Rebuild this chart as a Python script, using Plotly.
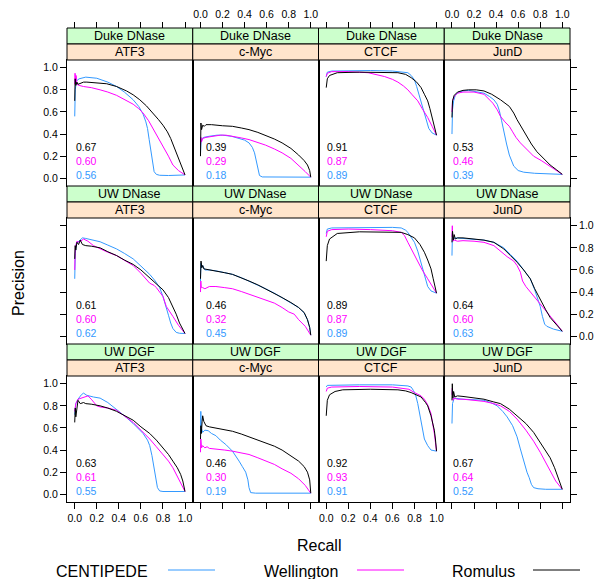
import plotly.graph_objects as go

W, H = 600, 579

datasets = ["Duke DNase", "UW DNase", "UW DGF"]
factors = ["ATF3", "c-Myc", "CTCF", "JunD"]
methods = ["CENTIPEDE", "Wellington", "Romulus"]

# AUC values printed in each panel (rows: datasets, cols: factors)
auc_centipede = [[0.56, 0.18, 0.89, 0.39], [0.62, 0.45, 0.89, 0.63], [0.55, 0.19, 0.91, 0.52]]
auc_wellington = [[0.60, 0.29, 0.87, 0.46], [0.60, 0.32, 0.87, 0.60], [0.61, 0.30, 0.93, 0.64]]
auc_romulus = [[0.67, 0.39, 0.91, 0.53], [0.61, 0.46, 0.89, 0.64], [0.63, 0.46, 0.92, 0.67]]

# ---- precision/recall curves: (recall, precision) ----
# Duke DNase
centipede_duke_atf3 = [(0,0.56),(0.005,0.80),(0.015,0.88),(0.04,0.90),(0.1,0.915),(0.2,0.905),(0.3,0.87),(0.38,0.83),(0.45,0.78),(0.53,0.71),(0.58,0.65),(0.62,0.58),(0.645,0.51),(0.66,0.45),(0.675,0.35),(0.69,0.24),(0.705,0.13),(0.72,0.06),(0.74,0.035),(0.77,0.027),(0.85,0.025),(1.0,0.03)]
wellington_duke_atf3 = [(0,0.85),(0.003,0.95),(0.008,0.87),(0.012,0.93),(0.02,0.85),(0.04,0.84),(0.08,0.83),(0.15,0.82),(0.23,0.80),(0.3,0.78),(0.38,0.75),(0.45,0.71),(0.53,0.67),(0.58,0.63),(0.62,0.59),(0.67,0.52),(0.71,0.45),(0.76,0.37),(0.80,0.29),(0.85,0.20),(0.89,0.12),(0.94,0.07),(1.0,0.03)]
romulus_duke_atf3 = [(0,0.70),(0.004,0.90),(0.01,0.84),(0.02,0.87),(0.03,0.85),(0.05,0.86),(0.08,0.87),(0.11,0.87),(0.2,0.865),(0.29,0.855),(0.38,0.83),(0.47,0.79),(0.53,0.755),(0.59,0.71),(0.65,0.655),(0.71,0.59),(0.76,0.53),(0.80,0.48),(0.84,0.42),(0.87,0.36),(0.91,0.26),(0.95,0.15),(1.0,0.03)]

centipede_duke_cmyc = [(0,0.22),(0.005,0.33),(0.015,0.36),(0.03,0.37),(0.08,0.38),(0.15,0.39),(0.2,0.39),(0.28,0.38),(0.35,0.36),(0.4,0.345),(0.44,0.32),(0.47,0.28),(0.49,0.23),(0.51,0.14),(0.52,0.08),(0.535,0.025),(0.56,0.012),(0.7,0.01),(1.0,0.01)]
wellington_duke_cmyc = [(0,0.30),(0.004,0.37),(0.01,0.33),(0.02,0.36),(0.05,0.37),(0.11,0.38),(0.18,0.39),(0.23,0.39),(0.3,0.38),(0.37,0.365),(0.44,0.35),(0.52,0.325),(0.59,0.30),(0.67,0.265),(0.74,0.23),(0.82,0.18),(0.89,0.12),(0.95,0.06),(1.0,0.01)]
romulus_duke_cmyc = [(0,0.20),(0.004,0.50),(0.01,0.44),(0.02,0.48),(0.035,0.47),(0.05,0.485),(0.1,0.485),(0.2,0.475),(0.29,0.47),(0.37,0.455),(0.44,0.44),(0.52,0.415),(0.59,0.39),(0.67,0.355),(0.74,0.32),(0.82,0.27),(0.89,0.21),(0.94,0.16),(0.97,0.12),(0.99,0.07),(1.0,0.01)]

centipede_duke_ctcf = [(0,0.92),(0.01,0.96),(0.05,0.97),(0.2,0.975),(0.4,0.975),(0.6,0.97),(0.7,0.96),(0.74,0.955),(0.77,0.93),(0.80,0.89),(0.82,0.83),(0.84,0.76),(0.865,0.67),(0.89,0.58),(0.91,0.51),(0.93,0.45),(0.96,0.41),(1.0,0.39)]
wellington_duke_ctcf = [(0,0.92),(0.01,0.95),(0.05,0.965),(0.2,0.965),(0.38,0.955),(0.45,0.94),(0.53,0.92),(0.6,0.895),(0.65,0.87),(0.7,0.835),(0.74,0.80),(0.78,0.755),(0.83,0.70),(0.87,0.63),(0.92,0.55),(0.96,0.47),(1.0,0.39)]
romulus_duke_ctcf = [(0,0.82),(0.01,0.90),(0.03,0.93),(0.1,0.955),(0.3,0.96),(0.5,0.96),(0.65,0.955),(0.72,0.94),(0.77,0.91),(0.82,0.87),(0.86,0.82),(0.89,0.76),(0.92,0.70),(0.94,0.63),(0.96,0.55),(0.98,0.47),(1.0,0.39)]

centipede_duke_jund = [(0,0.40),(0.005,0.62),(0.015,0.70),(0.03,0.75),(0.06,0.78),(0.1,0.79),(0.15,0.795),(0.22,0.785),(0.29,0.77),(0.34,0.74),(0.38,0.71),(0.41,0.67),(0.43,0.61),(0.45,0.52),(0.47,0.42),(0.495,0.31),(0.52,0.21),(0.54,0.15),(0.56,0.11),(0.6,0.07),(0.65,0.055),(0.75,0.045),(1.0,0.035)]
wellington_duke_jund = [(0,0.60),(0.005,0.70),(0.02,0.74),(0.05,0.77),(0.1,0.78),(0.2,0.78),(0.29,0.76),(0.33,0.72),(0.37,0.68),(0.41,0.62),(0.44,0.56),(0.48,0.51),(0.52,0.47),(0.55,0.42),(0.58,0.37),(0.62,0.32),(0.68,0.26),(0.74,0.20),(0.81,0.16),(0.89,0.11),(1.0,0.035)]
romulus_duke_jund = [(0,0.55),(0.005,0.70),(0.02,0.75),(0.05,0.78),(0.1,0.795),(0.15,0.80),(0.22,0.80),(0.29,0.79),(0.36,0.76),(0.44,0.71),(0.52,0.65),(0.56,0.59),(0.59,0.53),(0.63,0.46),(0.68,0.38),(0.72,0.31),(0.77,0.24),(0.83,0.18),(0.89,0.12),(0.95,0.075),(1.0,0.035)]

# UW DNase
centipede_uw_atf3 = [(0,0.52),(0.005,0.75),(0.015,0.84),(0.04,0.86),(0.07,0.89),(0.1,0.885),(0.17,0.87),(0.23,0.855),(0.3,0.825),(0.38,0.79),(0.45,0.75),(0.53,0.70),(0.6,0.635),(0.68,0.56),(0.73,0.50),(0.77,0.44),(0.80,0.36),(0.83,0.27),(0.85,0.19),(0.87,0.12),(0.89,0.07),(0.92,0.035),(0.95,0.027),(1.0,0.025)]
wellington_uw_atf3 = [(0,0.60),(0.005,0.80),(0.02,0.86),(0.04,0.85),(0.08,0.88),(0.12,0.86),(0.17,0.82),(0.23,0.79),(0.3,0.76),(0.38,0.73),(0.45,0.69),(0.53,0.64),(0.6,0.57),(0.68,0.48),(0.72,0.46),(0.74,0.44),(0.77,0.40),(0.80,0.36),(0.83,0.27),(0.86,0.22),(0.89,0.18),(0.94,0.10),(1.0,0.025)]
romulus_uw_atf3 = [(0,0.70),(0.004,0.82),(0.01,0.78),(0.02,0.85),(0.035,0.83),(0.05,0.87),(0.07,0.83),(0.1,0.82),(0.15,0.815),(0.23,0.80),(0.3,0.765),(0.38,0.73),(0.45,0.69),(0.53,0.65),(0.6,0.60),(0.68,0.53),(0.74,0.475),(0.80,0.42),(0.85,0.35),(0.89,0.27),(0.92,0.20),(0.95,0.12),(1.0,0.025)]

centipede_uw_cmyc = [(0,0.50),(0.004,0.66),(0.01,0.62),(0.02,0.64),(0.04,0.60),(0.08,0.60),(0.15,0.59),(0.22,0.575),(0.29,0.56),(0.37,0.53),(0.44,0.50),(0.52,0.465),(0.59,0.43),(0.67,0.39),(0.74,0.35),(0.82,0.305),(0.89,0.26),(0.94,0.21),(0.97,0.15),(0.99,0.08),(1.0,0.01)]
wellington_uw_cmyc = [(0,0.40),(0.003,0.50),(0.008,0.44),(0.02,0.44),(0.04,0.43),(0.08,0.45),(0.14,0.45),(0.22,0.44),(0.29,0.43),(0.37,0.405),(0.44,0.38),(0.52,0.355),(0.59,0.33),(0.67,0.30),(0.74,0.26),(0.8,0.22),(0.85,0.20),(0.89,0.15),(0.95,0.09),(1.0,0.01)]
romulus_uw_cmyc = [(0,0.52),(0.005,0.68),(0.012,0.62),(0.02,0.64),(0.03,0.61),(0.06,0.605),(0.1,0.60),(0.15,0.59),(0.22,0.575),(0.29,0.56),(0.37,0.53),(0.44,0.50),(0.52,0.465),(0.59,0.43),(0.67,0.39),(0.74,0.35),(0.82,0.305),(0.89,0.26),(0.94,0.215),(0.97,0.15),(0.99,0.08),(1.0,0.01)]

centipede_uw_ctcf = [(0,0.93),(0.01,0.97),(0.05,0.98),(0.3,0.985),(0.6,0.985),(0.68,0.98),(0.72,0.96),(0.74,0.94),(0.77,0.90),(0.80,0.85),(0.83,0.77),(0.86,0.67),(0.88,0.59),(0.90,0.52),(0.92,0.45),(0.95,0.41),(1.0,0.39)]
wellington_uw_ctcf = [(0,0.90),(0.01,0.95),(0.05,0.965),(0.2,0.97),(0.4,0.965),(0.6,0.955),(0.68,0.94),(0.71,0.91),(0.74,0.85),(0.77,0.79),(0.8,0.73),(0.83,0.67),(0.87,0.60),(0.92,0.52),(0.96,0.45),(1.0,0.39)]
romulus_uw_ctcf = [(0,0.68),(0.01,0.82),(0.03,0.88),(0.1,0.93),(0.3,0.945),(0.5,0.945),(0.68,0.94),(0.74,0.92),(0.80,0.89),(0.85,0.83),(0.89,0.76),(0.92,0.69),(0.95,0.61),(0.97,0.52),(0.99,0.44),(1.0,0.39)]

centipede_uw_jund = [(0,0.73),(0.004,0.93),(0.01,0.88),(0.03,0.89),(0.1,0.885),(0.2,0.88),(0.29,0.87),(0.38,0.85),(0.47,0.80),(0.53,0.74),(0.59,0.68),(0.65,0.60),(0.71,0.52),(0.75,0.42),(0.78,0.33),(0.80,0.27),(0.82,0.18),(0.84,0.11),(0.86,0.09),(0.92,0.065),(1.0,0.045)]
wellington_uw_jund = [(0,0.90),(0.003,1.0),(0.008,0.86),(0.02,0.87),(0.05,0.86),(0.1,0.865),(0.2,0.86),(0.29,0.85),(0.38,0.82),(0.44,0.77),(0.5,0.72),(0.56,0.68),(0.59,0.64),(0.62,0.58),(0.64,0.50),(0.67,0.45),(0.72,0.39),(0.77,0.33),(0.83,0.26),(0.89,0.18),(0.95,0.11),(1.0,0.045)]
romulus_uw_jund = [(0,0.85),(0.005,0.95),(0.012,0.87),(0.02,0.92),(0.03,0.88),(0.05,0.89),(0.1,0.89),(0.2,0.88),(0.29,0.87),(0.38,0.85),(0.47,0.79),(0.53,0.73),(0.59,0.67),(0.65,0.60),(0.71,0.52),(0.75,0.43),(0.80,0.33),(0.85,0.24),(0.89,0.17),(0.94,0.11),(1.0,0.045)]

# UW DGF
centipede_dgf_atf3 = [(0,0.72),(0.01,0.82),(0.03,0.86),(0.06,0.90),(0.08,0.915),(0.11,0.895),(0.17,0.88),(0.23,0.87),(0.3,0.83),(0.38,0.77),(0.45,0.71),(0.53,0.64),(0.58,0.59),(0.62,0.55),(0.66,0.49),(0.68,0.44),(0.70,0.35),(0.72,0.24),(0.735,0.14),(0.75,0.06),(0.77,0.03),(0.8,0.025),(1.0,0.025)]
wellington_dgf_atf3 = [(0,0.75),(0.01,0.82),(0.03,0.86),(0.06,0.87),(0.1,0.88),(0.12,0.89),(0.15,0.86),(0.2,0.80),(0.23,0.79),(0.3,0.78),(0.38,0.76),(0.45,0.71),(0.53,0.65),(0.6,0.58),(0.68,0.50),(0.74,0.43),(0.80,0.36),(0.85,0.30),(0.89,0.24),(0.93,0.16),(0.97,0.09),(1.0,0.025)]
romulus_dgf_atf3 = [(0,0.65),(0.005,0.78),(0.01,0.70),(0.02,0.80),(0.03,0.85),(0.05,0.82),(0.08,0.83),(0.1,0.82),(0.15,0.815),(0.23,0.80),(0.3,0.78),(0.38,0.75),(0.45,0.71),(0.53,0.67),(0.6,0.61),(0.68,0.55),(0.74,0.49),(0.80,0.42),(0.85,0.36),(0.89,0.30),(0.93,0.24),(0.96,0.18),(0.98,0.12),(1.0,0.025)]

centipede_dgf_cmyc = [(0,0.55),(0.003,0.75),(0.008,0.60),(0.02,0.56),(0.04,0.58),(0.07,0.575),(0.1,0.55),(0.14,0.53),(0.18,0.49),(0.23,0.45),(0.29,0.39),(0.32,0.35),(0.35,0.30),(0.38,0.25),(0.41,0.20),(0.43,0.13),(0.44,0.06),(0.455,0.015),(0.5,0.01),(1.0,0.01)]
wellington_dgf_cmyc = [(0,0.38),(0.003,0.50),(0.01,0.42),(0.02,0.44),(0.04,0.42),(0.06,0.43),(0.08,0.415),(0.14,0.41),(0.22,0.40),(0.29,0.39),(0.37,0.375),(0.44,0.36),(0.52,0.33),(0.59,0.30),(0.67,0.27),(0.74,0.23),(0.82,0.19),(0.89,0.14),(0.95,0.08),(1.0,0.01)]
romulus_dgf_cmyc = [(0,0.50),(0.004,0.62),(0.008,0.55),(0.015,0.66),(0.02,0.71),(0.03,0.66),(0.05,0.62),(0.08,0.61),(0.14,0.60),(0.22,0.585),(0.29,0.57),(0.37,0.545),(0.44,0.52),(0.52,0.495),(0.59,0.47),(0.67,0.435),(0.74,0.40),(0.82,0.35),(0.89,0.30),(0.94,0.25),(0.97,0.20),(0.99,0.13),(1.0,0.01)]

centipede_dgf_ctcf = [(0,0.97),(0.01,0.985),(0.3,0.99),(0.6,0.99),(0.74,0.98),(0.77,0.97),(0.79,0.94),(0.81,0.90),(0.83,0.82),(0.84,0.76),(0.86,0.66),(0.87,0.58),(0.89,0.50),(0.92,0.44),(0.95,0.40),(1.0,0.39)]
wellington_dgf_ctcf = [(0,0.93),(0.01,0.96),(0.05,0.97),(0.3,0.975),(0.6,0.97),(0.75,0.95),(0.8,0.92),(0.86,0.89),(0.89,0.86),(0.92,0.81),(0.95,0.73),(0.97,0.63),(0.98,0.55),(0.99,0.47),(1.0,0.39)]
romulus_dgf_ctcf = [(0,0.71),(0.01,0.85),(0.03,0.90),(0.08,0.93),(0.15,0.945),(0.4,0.95),(0.65,0.945),(0.72,0.935),(0.77,0.92),(0.82,0.90),(0.86,0.88),(0.9,0.83),(0.92,0.80),(0.95,0.71),(0.96,0.67),(0.98,0.58),(0.99,0.50),(1.0,0.39)]

centipede_dgf_jund = [(0,0.64),(0.005,0.82),(0.02,0.87),(0.05,0.865),(0.1,0.86),(0.2,0.855),(0.29,0.85),(0.35,0.83),(0.41,0.80),(0.46,0.75),(0.5,0.70),(0.55,0.62),(0.59,0.52),(0.62,0.41),(0.65,0.30),(0.68,0.20),(0.70,0.15),(0.72,0.09),(0.74,0.06),(0.78,0.05),(0.85,0.045),(1.0,0.045)]
wellington_dgf_jund = [(0,0.90),(0.003,0.96),(0.01,0.85),(0.02,0.87),(0.05,0.86),(0.1,0.86),(0.2,0.85),(0.29,0.84),(0.38,0.82),(0.44,0.80),(0.52,0.75),(0.59,0.68),(0.67,0.58),(0.74,0.48),(0.8,0.38),(0.85,0.29),(0.89,0.21),(0.94,0.12),(1.0,0.045)]
romulus_dgf_jund = [(0,0.85),(0.003,1.0),(0.008,0.87),(0.015,0.93),(0.025,0.88),(0.05,0.89),(0.1,0.885),(0.2,0.87),(0.29,0.86),(0.38,0.835),(0.44,0.82),(0.52,0.77),(0.59,0.71),(0.67,0.64),(0.74,0.56),(0.8,0.47),(0.85,0.40),(0.89,0.33),(0.93,0.24),(0.96,0.16),(1.0,0.045)]

tick_values = [0.0, 0.2, 0.4, 0.6, 0.8, 1.0]
tick_labels = ["0.0", "0.2", "0.4", "0.6", "0.8", "1.0"]

panel_curves = [
    [[centipede_duke_atf3, wellington_duke_atf3, romulus_duke_atf3],
     [centipede_duke_cmyc, wellington_duke_cmyc, romulus_duke_cmyc],
     [centipede_duke_ctcf, wellington_duke_ctcf, romulus_duke_ctcf],
     [centipede_duke_jund, wellington_duke_jund, romulus_duke_jund]],
    [[centipede_uw_atf3, wellington_uw_atf3, romulus_uw_atf3],
     [centipede_uw_cmyc, wellington_uw_cmyc, romulus_uw_cmyc],
     [centipede_uw_ctcf, wellington_uw_ctcf, romulus_uw_ctcf],
     [centipede_uw_jund, wellington_uw_jund, romulus_uw_jund]],
    [[centipede_dgf_atf3, wellington_dgf_atf3, romulus_dgf_atf3],
     [centipede_dgf_cmyc, wellington_dgf_cmyc, romulus_dgf_cmyc],
     [centipede_dgf_ctcf, wellington_dgf_ctcf, romulus_dgf_ctcf],
     [centipede_dgf_jund, wellington_dgf_jund, romulus_dgf_jund]],
]
panel_aucs = [auc_centipede, auc_wellington, auc_romulus]

# ---- styling ----
COLORS = ["#3399FF", "#FF00FF", "#000000"]
FONT = "Liberation Sans, Arial, Helvetica, sans-serif"
GREEN = "#CCFFCC"
ORANGE = "#FFE5CC"
RANGE = [-0.07, 1.07]

col_edges = [67, 192.75, 318.5, 444.25, 570]
STRIP_H = 16
PANEL_H = 126
TOP = 28


def row_geom(r):
    g0 = TOP + r * (2 * STRIP_H + PANEL_H)
    return g0, g0 + STRIP_H, g0 + 2 * STRIP_H, g0 + 2 * STRIP_H + PANEL_H


def fx(px):
    return px / W


def fy(py):
    return 1 - py / H


def sfx(k):
    return "" if k == 1 else str(k)


fig = go.Figure()
layout = {}
shapes = []
annotations = []

for r in range(3):
    g0, g1, g2, g3 = row_geom(r)
    for c in range(4):
        k = r * 4 + c + 1
        s = sfx(k)
        for m in range(3):
            pts = panel_curves[r][c][m]
            fig.add_trace(go.Scatter(
                x=[p[0] for p in pts], y=[p[1] for p in pts],
                mode="lines", line=dict(color=COLORS[m], width=1),
                xaxis="x" + s, yaxis="y" + s, showlegend=False, hoverinfo="skip"))
        layout["xaxis" + s] = dict(
            domain=[fx(col_edges[c]), fx(col_edges[c + 1])], anchor="y" + s,
            range=RANGE, showline=True, mirror=True, linecolor="black", linewidth=1,
            showgrid=False, zeroline=False,
            ticks="outside" if r == 2 else "", ticklen=6, tickwidth=1, tickcolor="black",
            tickvals=tick_values, ticktext=tick_labels,
            showticklabels=(r == 2 and c in (0, 2)),
            tickfont=dict(family=FONT, size=10.5, color="black"))
        layout["yaxis" + s] = dict(
            domain=[fy(g3), fy(g2)], anchor="x" + s,
            range=RANGE, showline=True, mirror=True, linecolor="black", linewidth=1,
            showgrid=False, zeroline=False,
            ticks="outside" if c == 0 else "", ticklen=6, tickwidth=1, tickcolor="black",
            tickvals=tick_values, ticktext=tick_labels,
            showticklabels=(c == 0 and r in (0, 2)),
            tickfont=dict(family=FONT, size=10.5, color="black"))
        # strips
        x0, x1 = fx(col_edges[c]), fx(col_edges[c + 1])
        shapes.append(dict(type="rect", xref="paper", yref="paper", x0=x0, x1=x1,
                           y0=fy(g1), y1=fy(g0), fillcolor=GREEN,
                           line=dict(color="black", width=1)))
        shapes.append(dict(type="rect", xref="paper", yref="paper", x0=x0, x1=x1,
                           y0=fy(g2), y1=fy(g1), fillcolor=ORANGE,
                           line=dict(color="black", width=1)))
        annotations.append(dict(xref="paper", yref="paper", x=(x0 + x1) / 2,
                                y=fy((g0 + g1) / 2), text=datasets[r], showarrow=False,
                                font=dict(family=FONT, size=12.5, color="black"),
                                xanchor="center", yanchor="middle"))
        annotations.append(dict(xref="paper", yref="paper", x=(x0 + x1) / 2,
                                y=fy((g1 + g2) / 2), text=factors[c], showarrow=False,
                                font=dict(family=FONT, size=12.5, color="black"),
                                xanchor="center", yanchor="middle"))
        # AUC labels (Romulus, Wellington, CENTIPEDE from top)
        tx = 0.035 if c == 1 else -0.01
        for m, ty in zip([2, 1, 0], [0.28, 0.155, 0.03]):
            annotations.append(dict(xref="x" + s, yref="y" + s, x=tx, y=ty,
                                    text="%.2f" % panel_aucs[m][r][c], showarrow=False,
                                    xanchor="left", yanchor="middle",
                                    font=dict(family=FONT, size=10.5, color=COLORS[m])))

# top axes (above strips)
for c in range(4):
    k = 13 + c
    layout["xaxis%d" % k] = dict(
        domain=[fx(col_edges[c]), fx(col_edges[c + 1])], anchor="free",
        position=fy(TOP), side="top", range=RANGE, showline=False, showgrid=False,
        zeroline=False, ticks="outside", ticklen=6, tickwidth=1, tickcolor="black",
        tickvals=tick_values, ticktext=tick_labels, showticklabels=(c in (1, 3)),
        tickfont=dict(family=FONT, size=10.5, color="black"))
    fig.add_trace(go.Scatter(x=[None], y=[None], xaxis="x%d" % k, yaxis="y" + sfx(c + 1),
                             showlegend=False, hoverinfo="skip"))

# right axes
for r in range(3):
    g0, g1, g2, g3 = row_geom(r)
    k = 13 + r
    layout["yaxis%d" % k] = dict(
        domain=[fy(g3), fy(g2)], anchor="free", position=fx(col_edges[4]), side="right",
        range=RANGE, showline=False, showgrid=False, zeroline=False,
        ticks="outside", ticklen=6, tickwidth=1, tickcolor="black",
        tickvals=tick_values, ticktext=tick_labels, showticklabels=(r == 1),
        tickfont=dict(family=FONT, size=10.5, color="black"))
    fig.add_trace(go.Scatter(x=[None], y=[None], xaxis="x" + sfx(r * 4 + 4), yaxis="y%d" % k,
                             showlegend=False, hoverinfo="skip"))

# axis titles
annotations.append(dict(xref="paper", yref="paper", x=fx(18), y=fy(283), text="Precision",
                        textangle=-90, showarrow=False, xanchor="center", yanchor="middle",
                        font=dict(family=FONT, size=16, color="black")))
annotations.append(dict(xref="paper", yref="paper", x=fx(318.5), y=fy(545), text="Recall",
                        showarrow=False, xanchor="center", yanchor="middle",
                        font=dict(family=FONT, size=16, color="black")))

# legend (text then line, lattice style)
legend_text_right = [150, 340, 517]
legend_line = [(168, 215), (357, 404), (533, 580)]
for m in range(3):
    annotations.append(dict(xref="paper", yref="paper", x=fx(legend_text_right[m]), y=fy(571),
                            text=methods[m], showarrow=False, xanchor="right", yanchor="middle",
                            font=dict(family=FONT, size=16, color="black")))
    shapes.append(dict(type="line", xref="paper", yref="paper",
                       x0=fx(legend_line[m][0]), x1=fx(legend_line[m][1]),
                       y0=fy(570), y1=fy(570), line=dict(color=COLORS[m], width=1)))

fig.update_layout(
    width=W, height=H, margin=dict(l=0, r=0, t=0, b=0),
    paper_bgcolor="white", plot_bgcolor="rgba(0,0,0,0)",
    showlegend=False, shapes=shapes, annotations=annotations,
    font=dict(family=FONT, color="black"),
    **layout)

fig.write_html("out.html")
